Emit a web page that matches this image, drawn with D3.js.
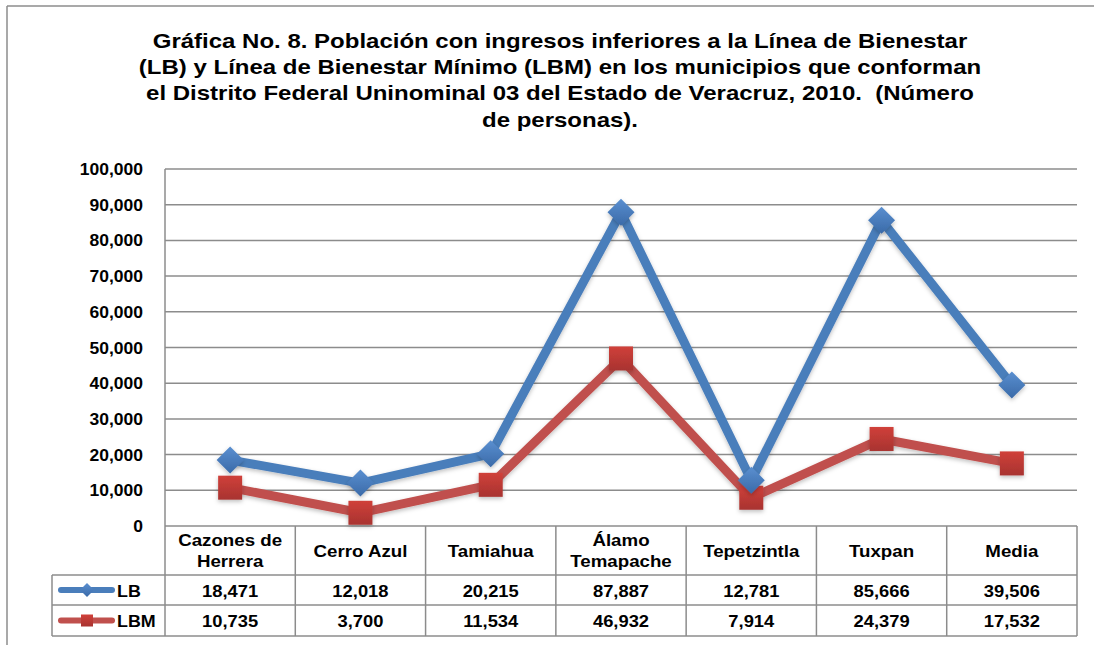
<!DOCTYPE html>
<html>
<head>
<meta charset="utf-8">
<script src="https://cdn.jsdelivr.net/npm/d3@7"></script>
<style>
body { margin: 0; background: #fff; }
svg { display: block; font-family: "Liberation Sans", Arial, sans-serif; }
</style>
</head>
<body>
<svg width="1094" height="645"></svg>
<script>
var categories = [['Cazones de', 'Herrera'], ['Cerro Azul'], ['Tamiahua'], ['Álamo', 'Temapache'], ['Tepetzintla'], ['Tuxpan'], ['Media']];
var lbValues = [18471, 12018, 20215, 87887, 12781, 85666, 39506];
var lbmValues = [10735, 3700, 11534, 46932, 7914, 24379, 17532];
var yTicks = [0, 10000, 20000, 30000, 40000, 50000, 60000, 70000, 80000, 90000, 100000];
var titleLines = [
  'Gráfica No. 8. Población con ingresos inferiores a la Línea de Bienestar',
  '(LB) y Línea de Bienestar Mínimo (LBM) en los municipios que conforman',
  'el Distrito Federal Uninominal 03 del Estado de Veracruz, 2010.  (Número',
  'de personas).'
];

var svg = d3.select('svg');
var plotLeft = 165, plotRight = 1077, plotTop = 169, plotBottom = 526;
var gridColor = '#8c8c8c';
var blue = '#4a7ebb', red = '#c0504d';
var fmt = d3.format(',');

var x = d3.scaleBand().domain(d3.range(categories.length)).range([plotLeft, plotRight]);
var y = d3.scaleLinear().domain([0, 100000]).range([plotBottom, plotTop]);

// text placed with a horizontal stretch factor
function stext(g, tx, ty, sx, str, size, anchor) {
  return g.append('text')
    .attr('transform', 'translate(' + tx + ',' + ty + ') scale(' + sx + ',1)')
    .attr('text-anchor', anchor).attr('font-size', size).attr('font-weight', 'bold')
    .attr('fill', '#000').style('white-space', 'pre').text(str);
}

var defs = svg.append('defs');
var shadow = defs.append('filter').attr('id', 'shadow').attr('x', '-50%').attr('y', '-50%').attr('width', '200%').attr('height', '200%');
shadow.append('feDropShadow').attr('dx', 0).attr('dy', 2).attr('stdDeviation', 2).attr('flood-opacity', 0.25);
var gradB = defs.append('linearGradient').attr('id', 'gradB').attr('x1', 0).attr('y1', 0).attr('x2', 0).attr('y2', 1);
gradB.append('stop').attr('offset', '0%').attr('stop-color', '#5a8fd0');
gradB.append('stop').attr('offset', '100%').attr('stop-color', '#3a6aa8');
var gradR = defs.append('linearGradient').attr('id', 'gradR').attr('x1', 0).attr('y1', 0).attr('x2', 0).attr('y2', 1);
gradR.append('stop').attr('offset', '0%').attr('stop-color', '#d0403a');
gradR.append('stop').attr('offset', '100%').attr('stop-color', '#a83330');

// outer frame
svg.append('line').attr('x1', 7).attr('x2', 1094).attr('y1', 6).attr('y2', 6).attr('stroke', gridColor).attr('stroke-width', 1.5);
svg.append('line').attr('x1', 7).attr('x2', 7).attr('y1', 6).attr('y2', 645).attr('stroke', gridColor).attr('stroke-width', 1.5);

// title
var titleG = svg.append('g');
titleLines.forEach(function(t, i) { stext(titleG, 560, 48 + i * 26.2, 1.2, t, 20, 'middle'); });

// gridlines + y labels
svg.append('g').selectAll('line').data(yTicks.filter(function(d) { return d > 0; })).enter().append('line')
  .attr('x1', plotLeft).attr('x2', plotRight)
  .attr('y1', function(d) { return y(d); }).attr('y2', function(d) { return y(d); })
  .attr('stroke', gridColor).attr('stroke-width', 1.5);
var yLab = svg.append('g');
yTicks.forEach(function(d) { stext(yLab, 143, y(d) + 6, 1.03, fmt(d), 17, 'end'); });

// data table
var rowTop = [plotBottom, 575, 605, 636];
var table = svg.append('g').attr('stroke', gridColor).attr('stroke-width', 1.5);
table.append('line').attr('x1', plotLeft).attr('x2', plotLeft).attr('y1', plotTop).attr('y2', rowTop[3]);
table.selectAll('.vl').data(d3.range(1, categories.length + 1)).enter().append('line')
  .attr('x1', function(d) { return plotLeft + d * x.bandwidth(); })
  .attr('x2', function(d) { return plotLeft + d * x.bandwidth(); })
  .attr('y1', plotBottom).attr('y2', rowTop[3]);
table.append('line').attr('x1', plotLeft).attr('x2', plotRight).attr('y1', plotBottom).attr('y2', plotBottom);
[1, 2, 3].forEach(function(r) {
  table.append('line').attr('x1', 52).attr('x2', plotRight).attr('y1', rowTop[r]).attr('y2', rowTop[r]);
});
table.append('line').attr('x1', 52).attr('x2', 52).attr('y1', rowTop[1]).attr('y2', rowTop[3]);

var cx = function(i) { return x(i) + x.bandwidth() / 2; };
var header = svg.append('g');
categories.forEach(function(lines, i) {
  var mid = (rowTop[0] + rowTop[1]) / 2;
  lines.forEach(function(t, j) {
    stext(header, cx(i), mid + 6 + (j - (lines.length - 1) / 2) * 21, 1.1, t, 17, 'middle');
  });
});
[lbValues, lbmValues].forEach(function(vals, r) {
  var g = svg.append('g');
  vals.forEach(function(v, i) {
    stext(g, cx(i), (rowTop[r + 1] + rowTop[r + 2]) / 2 + 6.5, 1.08, fmt(v), 17, 'middle');
  });
});

// series lines
var line = d3.line().x(function(d, i) { return cx(i); }).y(function(d) { return y(d); });
function diamond(g, px, py, s) {
  g.append('path').attr('d', 'M' + px + ',' + (py - s) + 'L' + (px + s) + ',' + py + 'L' + px + ',' + (py + s) + 'L' + (px - s) + ',' + py + 'Z');
}
var series = [
  { vals: lbmValues, color: red, fill: 'url(#gradR)', shape: 'square' },
  { vals: lbValues, color: blue, fill: 'url(#gradB)', shape: 'diamond' }
];
series.forEach(function(s) {
  svg.append('path').datum(s.vals).attr('d', line)
    .attr('fill', 'none').attr('stroke', s.color).attr('stroke-width', 9)
    .attr('stroke-linejoin', 'round').attr('filter', 'url(#shadow)');
});
series.forEach(function(s) {
  var g = svg.append('g').attr('fill', s.fill).attr('filter', 'url(#shadow)');
  s.vals.forEach(function(v, i) {
    if (s.shape === 'square') {
      g.append('rect').attr('x', cx(i) - 12).attr('y', y(v) - 12).attr('width', 24).attr('height', 24);
    } else {
      diamond(g, cx(i), y(v), 13.5);
    }
  });
});

// legend keys in table
var keys = [
  { label: 'LB', color: blue, fill: 'url(#gradB)', shape: 'diamond', yy: (rowTop[1] + rowTop[2]) / 2 },
  { label: 'LBM', color: red, fill: 'url(#gradR)', shape: 'square', yy: (rowTop[2] + rowTop[3]) / 2 }
];
var keyG = svg.append('g');
keys.forEach(function(k) {
  keyG.append('line').attr('x1', 61).attr('x2', 112).attr('y1', k.yy).attr('y2', k.yy)
    .attr('stroke', k.color).attr('stroke-width', 6).attr('stroke-linecap', 'round');
  var g = keyG.append('g').attr('fill', k.fill);
  if (k.shape === 'square') {
    g.append('rect').attr('x', 81).attr('y', k.yy - 6).attr('width', 12).attr('height', 12);
  } else {
    diamond(g, 87, k.yy, 7);
  }
  stext(keyG, 117, k.yy + 6.5, 1.05, k.label, 17, 'start');
});
</script>
</body>
</html>
